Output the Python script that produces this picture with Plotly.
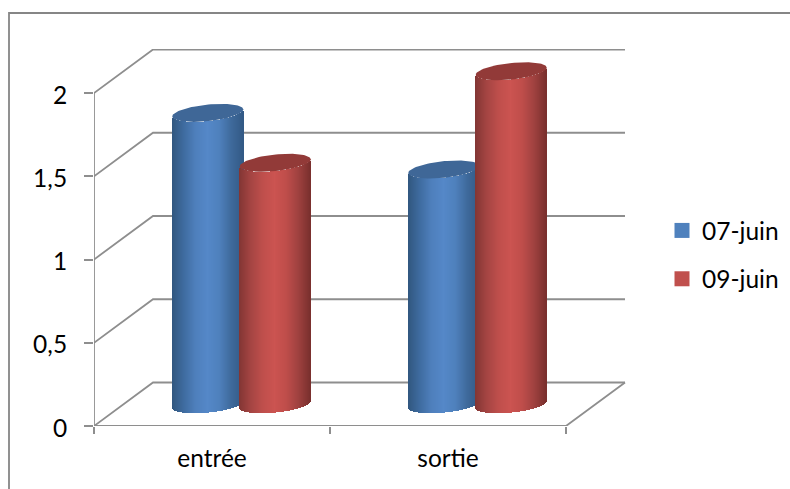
import numpy as np
import plotly.graph_objects as go

# Chart data
categories = ["entrée", "sortie"]
series_names = ["07-juin", "09-juin"]
values_0706 = [1.75, 1.41]
values_0906 = [1.45, 2.0]
y_ticks = [0, 0.5, 1, 1.5, 2]
y_tick_labels = ["0", "0,5", "1", "1,5", "2"]

# Pseudo-3D scene, in axis units
PX_X = 236.0      # pixels per category
PX_Y = 166.5      # pixels per value unit
DEPTH_X = 59 / PX_X
DEPTH_Y = 43.5 / PX_Y
STRIP = 1 / PX_X
RADIUS = 35.5 / PX_X
OFFSET = 33.75 / PX_X
ELL_B = 8.3 / PX_Y
ELL_TILT = 3.5 / PX_Y
GREY = "#8e8e8e"

side_shades = {
    "07-juin": ["#31577f", "#3f6ca0", "#4f80bd", "#5588c8", "#4f81bd", "#3f6a9c", "#335a86"],
    "09-juin": ["#823634", "#a54543", "#bf4f4c", "#cc5451", "#bf4e4b", "#a04240", "#7a302e"],
}
cap_colours = {"07-juin": "#3f6797", "09-juin": "#923a38"}
legend_colours = {"07-juin": "#4f81bd", "09-juin": "#c0504d"}


def hex_rgb(c):
    return np.array([int(c[i:i + 2], 16) for i in (1, 3, 5)], float)


def shade(stops, u):
    pos = (u + 1) / 2 * (len(stops) - 1)
    i = min(int(pos), len(stops) - 2)
    f = pos - i
    rgb = hex_rgb(stops[i]) * (1 - f) + hex_rgb(stops[i + 1]) * f
    return "rgb(%d,%d,%d)" % tuple(rgb)


fig = go.Figure()

# Walls and floor
wall_x, wall_y = [], []
for v in y_ticks:
    wall_x += [0, DEPTH_X, len(categories) + DEPTH_X, None]
    wall_y += [v, v + DEPTH_Y, v + DEPTH_Y, None]
wall_x += [0, 0, None, 0, len(categories), len(categories) + DEPTH_X]
wall_y += [0, max(y_ticks), None, 0, 0, DEPTH_Y]
fig.add_trace(go.Scatter(x=wall_x, y=wall_y, mode="lines", cliponaxis=False,
                         line=dict(color=GREY, width=1.8), showlegend=False,
                         hoverinfo="skip", zorder=0))

# Cylinders: a bar trace of one-pixel strips plus an elliptical cap
z = 1
for name, vals, sign in ((series_names[0], values_0706, -1), (series_names[1], values_0906, 1)):
    for k, val in enumerate(vals):
        cx = k + 0.5 + DEPTH_X / 2 + sign * OFFSET
        base = DEPTH_Y / 2
        n = int(round(2 * RADIUS / STRIP))
        xs = cx - RADIUS + STRIP * (np.arange(n) + 0.5)
        u = (xs - cx) / RADIUS
        bases = base + ELL_TILT * u - ELL_B * np.sqrt(1 - u ** 2)
        fig.add_trace(go.Bar(x=xs, y=[val] * n, base=bases, width=STRIP,
                             marker=dict(color=[shade(side_shades[name], t) for t in u],
                                         line=dict(width=0)),
                             showlegend=False, hoverinfo="skip", zorder=z))
        t = np.linspace(0, 2 * np.pi, 90)
        fig.add_trace(go.Scatter(x=cx + RADIUS * np.cos(t),
                                 y=base + val + ELL_TILT * np.cos(t) + ELL_B * np.sin(t),
                                 mode="lines", fill="toself", fillcolor=cap_colours[name],
                                 line=dict(width=0), showlegend=False,
                                 hoverinfo="skip", zorder=z + 1))
        z += 2

# Legend entries
for name in series_names:
    fig.add_trace(go.Scatter(x=[None], y=[None], name=name, mode="markers", legendgroup=name,
                             marker=dict(symbol="square", size=15, color=legend_colours[name])))

W, H = 790, 489
ML, MR, MT, MB = 94, 0, 49, 63
plot_w = W - ML - MR
plot_h = H - MT - MB

fig.update_layout(
    width=W, height=H, autosize=False,
    margin=dict(l=ML, r=MR, t=MT, b=MB, pad=0),
    paper_bgcolor="white", plot_bgcolor="rgba(0,0,0,0)",
    barmode="overlay", bargap=0,
    font=dict(family="Lato", size=24.5, color="#000000"),
    showlegend=True,
    legend=dict(x=(662 - ML) / plot_w, y=1 - (208 - MT) / plot_h, xanchor="left", yanchor="top",
                bgcolor="rgba(0,0,0,0)", tracegroupgap=13.5, itemclick=False, itemdoubleclick=False,
                font=dict(family="Lato", size=24.5)),
    xaxis=dict(range=[0, plot_w / PX_X], tickvals=[0.5, 1.5], ticktext=categories, ticks="",
               showgrid=False, zeroline=False, showline=False, ticklabelstandoff=15,
               minor=dict(tickvals=[0, 1, 2], ticks="outside", ticklen=7, tickwidth=1.8,
                          tickcolor=GREY, showgrid=False)),
    yaxis=dict(range=[0, plot_h / PX_Y], tickvals=y_ticks, ticktext=y_tick_labels,
               ticks="outside", ticklen=9, tickwidth=1.8, tickcolor=GREY, ticklabelshift=2,
               showgrid=False, zeroline=False, showline=False, ticklabelstandoff=12),
    shapes=[dict(type="path", xref="paper", yref="paper", layer="above",
                 path="M %f %f L %f %f L %f %f" % (
                     (9 - ML) / plot_w, 1 - (H + 5 - MT) / plot_h,
                     (9 - ML) / plot_w, 1 - (13 - MT) / plot_h,
                     (W + 5 - ML) / plot_w, 1 - (13 - MT) / plot_h),
                 line=dict(color="#868686", width=1.8))],
)

fig.write_html("out.html")
